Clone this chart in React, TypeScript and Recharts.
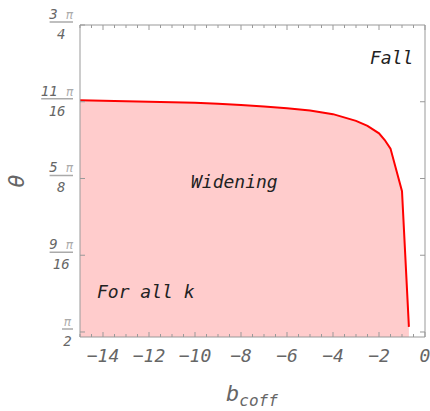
import React from 'react';
import { AreaChart, Area, XAxis, YAxis } from 'recharts';

// boundary curve theta(b)
const bValues = [-15, -14, -13, -12, -11, -10, -9, -8, -7, -6, -5, -4, -3, -2.5, -2, -1.75, -1.5, -1, -0.7];
const thetaValues = [
  2.1634, 2.1622, 2.161, 2.1598, 2.1586, 2.1572, 2.1548, 2.1515, 2.1475, 2.1434, 2.1376, 2.1281, 2.111, 2.098,
  2.079, 2.062, 2.04, 1.931, 1.584,
];

const xMinorTicks = [
  -15, -14.5, -14, -13.5, -13, -12.5, -12, -11.5, -11, -10.5, -10, -9.5, -9, -8.5, -8, -7.5, -7, -6.5, -6, -5.5,
  -5, -4.5, -4, -3.5, -3, -2.5, -2, -1.5, -1, -0.5, 0,
];
const xLabelTicks = [-14, -12, -10, -8, -6, -4, -2, 0];
const xLabelTexts = ['−14', '−12', '−10', '−8', '−6', '−4', '−2', '0'];

const yTicks = [Math.PI / 2, (9 * Math.PI) / 16, (5 * Math.PI) / 8, (11 * Math.PI) / 16, (3 * Math.PI) / 4];
const yTickNums = ['', '9', '5', '11', '3'];
const yTickDens = ['2', '16', '8', '16', '4'];

const data = bValues.map((b, i) => ({ b, theta: thetaValues[i] }));

const FRAME = '#999';
const LABEL = '#666';
const FONT = '"DejaVu Sans Mono", monospace';
const Y_DOMAIN = [Math.PI / 2 - 0.0128, (3 * Math.PI) / 4];

const findY = (v: number) => yTicks.findIndex((t) => Math.abs(t - v) < 1e-6);

const BottomTick = ({ x, y, payload }: any) => {
  const i = xLabelTicks.indexOf(payload.value);
  return (
    <g>
      <line x1={x} x2={x} y1={y} y2={y - (i >= 0 ? 5 : 3)} stroke={FRAME} />
      {i >= 0 && (
        <text x={x} y={y + 25} textAnchor="middle" fontFamily={FONT} fontStyle="italic" fontSize={18} fill={LABEL}>
          {xLabelTexts[i]}
        </text>
      )}
    </g>
  );
};

const TopTick = ({ x, y, payload }: any) => {
  const major = xLabelTicks.indexOf(payload.value) >= 0;
  return <line x1={x} x2={x} y1={y} y2={y + (major ? 5 : 3)} stroke={FRAME} />;
};

const LeftTick = ({ x, y, payload }: any) => {
  const i = findY(payload.value);
  if (i < 0) return null;
  const num = yTickNums[i];
  const w = num ? num.length * 8.4 + 15 : 11;
  const right = x - 7;
  const cx = right - w / 2;
  return (
    <g>
      <line x1={x} x2={x + 5} y1={y} y2={y} stroke={FRAME} />
      <line x1={right - w} x2={right} y1={y - 3} y2={y - 3} stroke="#aaa" strokeWidth={1.5} />
      <text x={cx} y={y - 6} textAnchor="middle" fontFamily={FONT} fontStyle="italic" fontSize={14} fill={LABEL}>
        {num ? num + ' ' : ''}
        <tspan fontSize={12} fill="#aaa">
          π
        </tspan>
      </text>
      <text x={cx} y={y + 14} textAnchor="middle" fontFamily={FONT} fontStyle="italic" fontSize={14} fill={LABEL}>
        {yTickDens[i]}
      </text>
    </g>
  );
};

const RightTick = ({ x, y }: any) => <line x1={x} x2={x - 5} y1={y} y2={y} stroke={FRAME} />;

const Annotations = () => (
  <svg
    width={430}
    height={411}
    style={{ position: 'absolute', left: 0, top: 0, pointerEvents: 'none' }}
    fontFamily={FONT}
    fontStyle="italic"
  >
    <text x={370} y={64} fontSize={18} fill="#222">
      Fall
    </text>
    <text x={191} y={188} fontSize={18} fill="#222">
      Widening
    </text>
    <text x={97} y={298} fontSize={18} fill="#222">
      For all k
    </text>
    <text x={226} y={401} fontSize={22} fill={LABEL}>
      b
      <tspan fontSize={16} dy={5}>
        coff
      </tspan>
    </text>
    <text x={24} y={181} fontSize={22} fill={LABEL} textAnchor="middle" transform="rotate(-90 24 181)">
      θ
    </text>
  </svg>
);

export default function App() {
  return (
    <div style={{ position: 'absolute', left: 0, top: 0, width: 430, height: 411, background: '#fff' }}>
      <AreaChart width={430} height={411} data={data} margin={{ top: 24, right: 4, left: 0, bottom: 0 }}>
        <Area
          type="linear"
          dataKey="theta"
          stroke="#ff0000"
          strokeWidth={2}
          fill="#ffcccc"
          fillOpacity={1}
          isAnimationActive={false}
          dot={false}
          activeDot={false}
        />
        <XAxis
          dataKey="b"
          type="number"
          domain={[-15, 0]}
          ticks={xMinorTicks}
          interval={0}
          allowDataOverflow
          height={74}
          tickSize={0}
          tickMargin={0}
          tickLine={false}
          axisLine={{ stroke: FRAME }}
          tick={<BottomTick />}
        />
        <XAxis
          xAxisId="top"
          orientation="top"
          dataKey="b"
          type="number"
          domain={[-15, 0]}
          ticks={xMinorTicks}
          interval={0}
          allowDataOverflow
          height={1}
          tickSize={0}
          tickMargin={0}
          tickLine={false}
          axisLine={{ stroke: FRAME }}
          tick={<TopTick />}
        />
        <YAxis
          type="number"
          domain={Y_DOMAIN}
          ticks={yTicks}
          interval={0}
          allowDataOverflow
          width={80}
          tickSize={0}
          tickMargin={0}
          tickLine={false}
          axisLine={{ stroke: FRAME }}
          tick={<LeftTick />}
        />
        <YAxis
          yAxisId="right"
          orientation="right"
          type="number"
          domain={Y_DOMAIN}
          ticks={yTicks.slice(0, 4)}
          interval={0}
          allowDataOverflow
          width={1}
          tickSize={0}
          tickMargin={0}
          tickLine={false}
          axisLine={{ stroke: FRAME }}
          tick={<RightTick />}
        />
      </AreaChart>
      <Annotations />
    </div>
  );
}
